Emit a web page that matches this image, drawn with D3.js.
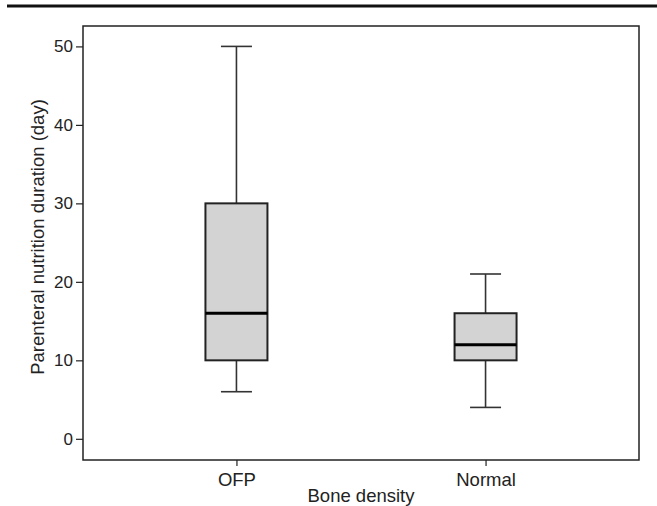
<!DOCTYPE html>
<html>
<head>
<meta charset="utf-8">
<script src="https://cdn.jsdelivr.net/npm/d3@7"></script>
<style>
  body { margin: 0; background: #fff; }
  text { font-family: "Liberation Sans", Arial, sans-serif; fill: #222; }
</style>
</head>
<body>
<div id="chart"></div>
<script>
// data
let groups = ["OFP", "Normal"];
let whiskerLow = [6, 4];
let q1 = [10, 10];
let median = [16, 12];
let q3 = [30, 16];
let whiskerHigh = [50, 21];
let yTicks = [0, 10, 20, 30, 40, 50];

let W = 657, H = 506;
let svg = d3.select("#chart").append("svg").attr("width", W).attr("height", H);

// rule across the top
svg.append("line").attr("x1", 7).attr("x2", W).attr("y1", 6).attr("y2", 6)
  .style("stroke", "#111").style("stroke-width", 3);

let pLeft = 83, pRight = 639, pTop = 26, pBottom = 460;

let y = d3.scaleLinear().domain([-2.7, 52.6]).range([pBottom, pTop]);
let x = d3.scalePoint().domain(groups).range([pLeft, pRight]).padding(0.616);

let boxW = 62, capW = 31;

// y axis
let yAxis = svg.append("g").attr("transform", "translate(" + pLeft + ",0)")
  .call(d3.axisLeft(y).tickValues(yTicks).tickSize(7).tickPadding(3));
yAxis.select(".domain").remove();
yAxis.selectAll("text").style("font-size", "17px").style("fill", "#222");
yAxis.selectAll("line").style("stroke", "#222").style("stroke-width", 1.2);

// x axis
let xAxis = svg.append("g").attr("transform", "translate(0," + pBottom + ")")
  .call(d3.axisBottom(x).tickSize(6).tickPadding(7));
xAxis.select(".domain").remove();
xAxis.selectAll("text").style("font-size", "18.5px").style("fill", "#222");
xAxis.selectAll("line").style("stroke", "#222").style("stroke-width", 1.2);

// frame
svg.append("rect").attr("x", pLeft).attr("y", pTop)
  .attr("width", pRight - pLeft).attr("height", pBottom - pTop)
  .style("fill", "none").style("stroke", "#222").style("stroke-width", 1.5);

// boxes
groups.forEach(function (g, i) {
  let cx = x(g);
  let grp = svg.append("g");
  grp.append("line").attr("x1", cx).attr("x2", cx)
    .attr("y1", y(whiskerHigh[i])).attr("y2", y(q3[i]))
    .style("stroke", "#333").style("stroke-width", 1.6);
  grp.append("line").attr("x1", cx).attr("x2", cx)
    .attr("y1", y(q1[i])).attr("y2", y(whiskerLow[i]))
    .style("stroke", "#333").style("stroke-width", 1.6);
  grp.append("line").attr("x1", cx - capW / 2).attr("x2", cx + capW / 2)
    .attr("y1", y(whiskerHigh[i])).attr("y2", y(whiskerHigh[i]))
    .style("stroke", "#333").style("stroke-width", 1.6);
  grp.append("line").attr("x1", cx - capW / 2).attr("x2", cx + capW / 2)
    .attr("y1", y(whiskerLow[i])).attr("y2", y(whiskerLow[i]))
    .style("stroke", "#333").style("stroke-width", 1.6);
  grp.append("rect").attr("x", cx - boxW / 2).attr("width", boxW)
    .attr("y", y(q3[i])).attr("height", y(q1[i]) - y(q3[i]))
    .style("fill", "#d3d3d3").style("stroke", "#222").style("stroke-width", 2);
  grp.append("line").attr("x1", cx - boxW / 2).attr("x2", cx + boxW / 2)
    .attr("y1", y(median[i])).attr("y2", y(median[i]))
    .style("stroke", "#000").style("stroke-width", 3);
});

// axis titles
svg.append("text").attr("x", (pLeft + pRight) / 2).attr("y", 502)
  .attr("text-anchor", "middle").style("font-size", "18.5px").text("Bone density");
svg.append("text").attr("transform", "translate(43.5,237) rotate(-90)")
  .attr("text-anchor", "middle").style("font-size", "18.5px")
  .text("Parenteral nutrition duration (day)");
</script>
</body>
</html>
